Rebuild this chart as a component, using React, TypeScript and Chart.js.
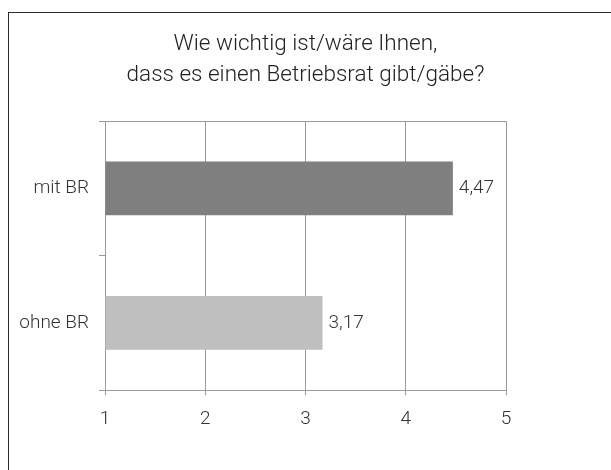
import React, { useEffect, useRef } from "react";
import { Chart, registerables } from "chart.js";

Chart.register(...registerables);

const categories = ["mit BR", "ohne BR"];
const values = [4.47, 3.17];
const barColors = ["#7f7f7f", "#bfbfbf"];
const titleLines = ["Wie wichtig ist/wäre Ihnen,", "dass es einen Betriebsrat gibt/gäbe?"];
const xMin = 1;
const xMax = 5;

const FONT = "Roboto, 'Open Sans', 'DejaVu Sans', sans-serif";
const GRID = "#9a9a9a";
const TEXT = "#333333";

const valueLabels = {
  id: "valueLabels",
  afterDatasetsDraw(chart: any) {
    const ctx = chart.ctx;
    const meta = chart.getDatasetMeta(0);
    ctx.save();
    ctx.font = `300 19px ${FONT}`;
    ctx.fillStyle = TEXT;
    ctx.textAlign = "left";
    ctx.textBaseline = "middle";
    meta.data.forEach((bar: any, i: number) => {
      const v = chart.data.datasets[0].data[i] as number;
      ctx.fillText(v.toFixed(2).replace(".", ","), bar.x + 6, bar.y);
    });
    ctx.restore();
  },
};

const centeredTitle = {
  id: "centeredTitle",
  afterDraw(chart: any) {
    const ctx = chart.ctx;
    ctx.save();
    ctx.font = `300 22.5px ${FONT}`;
    ctx.fillStyle = "#222222";
    ctx.textAlign = "center";
    ctx.textBaseline = "alphabetic";
    titleLines.forEach((line, i) => {
      ctx.fillText(line, 305.5, 50 + i * 31);
    });
    ctx.restore();
  },
};

export default function App() {
  const ref = useRef<HTMLCanvasElement>(null);
  useEffect(() => {
    if (!ref.current) return;
    const chart = new Chart(ref.current, {
      type: "bar",
      data: {
        labels: categories,
        datasets: [
          {
            data: values,
            backgroundColor: barColors,
            borderWidth: 0,
            barPercentage: 0.5,
            categoryPercentage: 0.8,
            base: xMin,
          } as any,
        ],
      },
      options: {
        indexAxis: "y",
        animation: false,
        responsive: false,
        maintainAspectRatio: false,
        layout: { padding: { top: 121, left: 0, right: 105, bottom: 26 } },
        plugins: {
          legend: { display: false },
          tooltip: { enabled: false },
          title: { display: false },
        },
        scales: {
          x: {
            min: xMin,
            max: xMax,
            ticks: {
              stepSize: 1,
              color: TEXT,
              font: { family: FONT, size: 19, weight: "300" as any },
              padding: 13,
            },
            grid: { color: GRID, lineWidth: 1, tickLength: 5, tickColor: GRID },
            border: { display: true, color: GRID, width: 1 },
          },
          y: {
            afterFit: (scale: any) => {
              scale.width = 105;
            },
            ticks: {
              color: TEXT,
              font: { family: FONT, size: 19, weight: "300" as any },
              padding: 10,
            },
            grid: {
              offset: true,
              tickLength: 6,
              tickColor: GRID,
              lineWidth: 1,
              color: (c: any) => (c.index === 0 ? GRID : "rgba(0,0,0,0)"),
            },
            border: { display: true, color: GRID, width: 1 },
          },
        },
      },
      plugins: [valueLabels, centeredTitle],
    });
    return () => chart.destroy();
  }, []);

  return (
    <div style={{ position: "fixed", left: 0, top: 0, width: 611, height: 470, background: "#fff", overflow: "hidden" }}>
      <div
        style={{
          position: "absolute",
          left: 8,
          top: 12,
          width: 700,
          height: 600,
          borderTop: "1px solid #2b2b2b",
          borderLeft: "1px solid #2b2b2b",
          boxSizing: "border-box",
        }}
      />
      <canvas ref={ref} width={611} height={470} style={{ position: "absolute", left: 0, top: 0, width: 611, height: 470 }} />
    </div>
  );
}
